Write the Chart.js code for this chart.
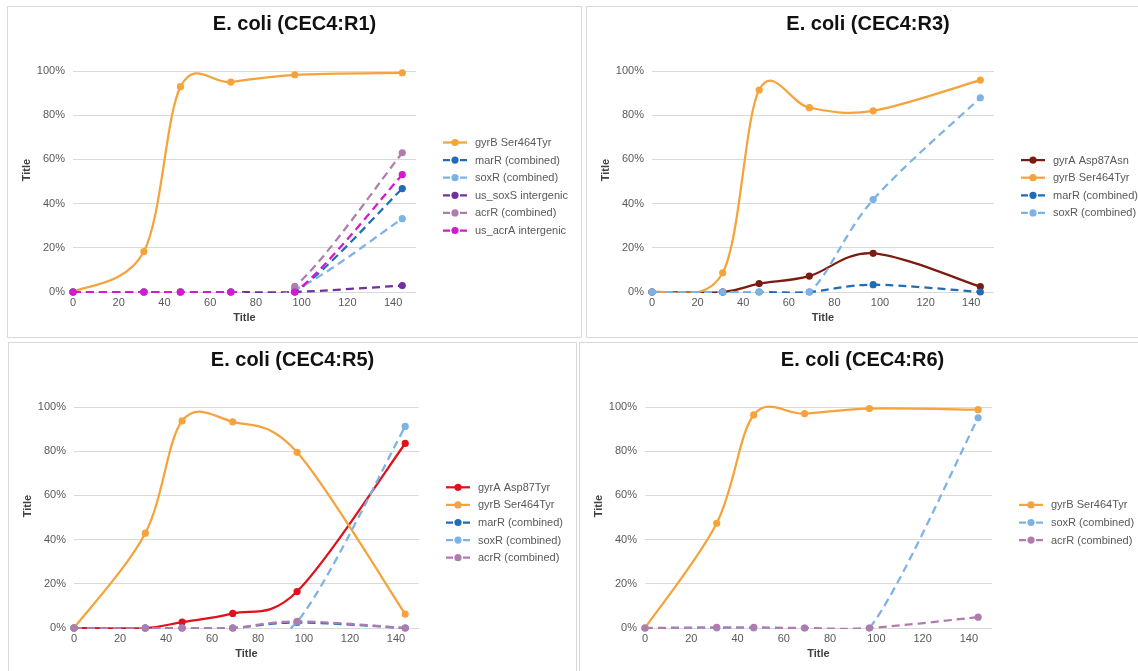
<!DOCTYPE html>
<html><head><meta charset="utf-8">
<script src="https://cdn.jsdelivr.net/npm/chart.js@4"></script>
<style>
html,body{margin:0;padding:0;background:#fff;width:1138px;height:671px;overflow:hidden;}
.panel{position:absolute;border:1px solid #D9D9D9;box-sizing:border-box;background:#fff;overflow:hidden;}
canvas{display:block;}
</style></head><body>
<div class="panel" style="left:7px;top:6px;width:575px;height:332px"><canvas id="c1"></canvas></div>
<div class="panel" style="left:586px;top:6px;width:564px;height:332px"><canvas id="c2"></canvas></div>
<div class="panel" style="left:8px;top:342px;width:569px;height:332px"><canvas id="c3"></canvas></div>
<div class="panel" style="left:579px;top:342px;width:567px;height:332px"><canvas id="c4"></canvas></div>
<script>
// ---- data ----
const timeHours = [0, 31, 47, 69, 97, 144];
const xTickValues = [0, 20, 40, 60, 80, 100, 120, 140];
const yTickValues = [0, 0.2, 0.4, 0.6, 0.8, 1.0];
const axisTitleX = 'Title';
const axisTitleY = 'Title';

const r1Title = 'E. coli (CEC4:R1)';
const r1Names = ['gyrB Ser464Tyr', 'marR (combined)', 'soxR (combined)', 'us_soxS intergenic', 'acrR (combined)', 'us_acrA intergenic'];
const r1_gyrB = [0, 0.183, 0.929, 0.950, 0.983, 0.992];
const r1_marR = [0, 0, 0, 0, 0, 0.468];
const r1_soxR = [0, 0, 0, 0, 0.01, 0.332];
const r1_soxS = [0, 0, 0, 0, 0, 0.029];
const r1_acrR = [0, 0, 0, 0, 0.026, 0.630];
const r1_acrA = [0, 0, 0, 0, 0, 0.531];

const r3Title = 'E. coli (CEC4:R3)';
const r3Names = ['gyrA Asp87Asn', 'gyrB Ser464Tyr', 'marR (combined)', 'soxR (combined)'];
const r3_gyrA = [0, 0, 0.038, 0.072, 0.175, 0.024];
const r3_gyrB = [0, 0.087, 0.914, 0.834, 0.820, 0.959];
const r3_marR = [0, 0, 0, 0, 0.033, 0];
const r3_soxR = [0, 0, 0, 0, 0.418, 0.879];

const r5Title = 'E. coli (CEC4:R5)';
const r5Names = ['gyrA Asp87Tyr', 'gyrB Ser464Tyr', 'marR (combined)', 'soxR (combined)', 'acrR (combined)'];
const r5_gyrA = [0, 0, 0.027, 0.066, 0.165, 0.835];
const r5_gyrB = [0, 0.429, 0.937, 0.933, 0.795, 0.063];
const r5_marR = [0, 0, 0, 0, 0.025, 0];
const r5_soxR = [0, 0, 0, 0, 0.028, 0.912];
const r5_acrR = [0, 0, 0, 0, 0.030, 0];

const r6Title = 'E. coli (CEC4:R6)';
const r6Names = ['gyrB Ser464Tyr', 'soxR (combined)', 'acrR (combined)'];
const r6_gyrB = [0, 0.474, 0.964, 0.970, 0.993, 0.988];
const r6_soxR = [0, 0, 0, 0, 0, 0.951];
const r6_acrR = [0, 0.003, 0.003, 0, 0, 0.049];

// ---- styles ----
const seriesStyle = {
  'gyrB Ser464Tyr': {color: '#F5A33A', dash: false},
  'marR (combined)': {color: '#1F6CB8', dash: true},
  'soxR (combined)': {color: '#7DB2E6', dash: true},
  'us_soxS intergenic': {color: '#7030A0', dash: true},
  'acrR (combined)': {color: '#B07CB0', dash: true},
  'us_acrA intergenic': {color: '#D817D0', dash: true},
  'gyrA Asp87Asn': {color: '#7B1C10', dash: false},
  'gyrA Asp87Tyr': {color: '#E0111B', dash: false}
};
const FONT = '"Liberation Sans", Arial, Helvetica, sans-serif';
Chart.defaults.font.family = FONT;

const panels = [
  {id: 'c1', w: 573, h: 330, plotW: 343, title: r1Title, names: r1Names, values: [r1_gyrB, r1_marR, r1_soxR, r1_soxS, r1_acrR, r1_acrA]},
  {id: 'c2', w: 562, h: 330, plotW: 342, title: r3Title, names: r3Names, values: [r3_gyrA, r3_gyrB, r3_marR, r3_soxR]},
  {id: 'c3', w: 567, h: 330, plotW: 345, title: r5Title, names: r5Names, values: [r5_gyrA, r5_gyrB, r5_marR, r5_soxR, r5_acrR]},
  {id: 'c4', w: 565, h: 330, plotW: 347, title: r6Title, names: r6Names, values: [r6_gyrB, r6_soxR, r6_acrR]}
];

// Uniform Catmull-Rom smoothing (spreadsheet-style smoothed line)
const smoothPlugin = {
  id: 'smooth',
  beforeDatasetDraw(chart, args) {
    const meta = args.meta;
    const ds = chart.data.datasets[args.index];
    if (!ds.showLine || !meta.dataset) return;
    const line = meta.dataset;
    line.updateControlPoints(chart.chartArea, meta.indexAxis);
    const pts = meta.data;
    const n = pts.length;
    for (let i = 0; i < n; i++) {
      const prev = pts[Math.max(i - 1, 0)];
      const next = pts[Math.min(i + 1, n - 1)];
      const cur = pts[i];
      const dx = (next.x - prev.x) / 6;
      const dy = (next.y - prev.y) / 6;
      cur.cp1x = cur.x - dx; cur.cp1y = cur.y - dy;
      cur.cp2x = cur.x + dx; cur.cp2y = cur.y + dy;
    }
  }
};

const decoPlugin = {
  id: 'deco',
  afterDraw(chart, args, opts) {
    const ctx = chart.ctx, a = chart.chartArea;
    ctx.save();
    ctx.fillStyle = '#111';
    ctx.font = 'bold 20px ' + FONT;
    ctx.textAlign = 'center';
    ctx.textBaseline = 'middle';
    ctx.fillText(opts.title, chart.width / 2, 17);
    ctx.fillStyle = '#404040';
    ctx.font = 'bold 11px ' + FONT;
    ctx.fillText(opts.xTitle, (a.left + a.right) / 2, 311);
    ctx.save();
    ctx.translate(19, 163);
    ctx.rotate(-Math.PI / 2);
    ctx.fillText(opts.yTitle, 0, 0);
    ctx.restore();
    const items = opts.items;
    const gap = 17.6;
    const y0 = 179.5 - (items.length - 1) * gap / 2;
    const lx = a.right + 27;
    ctx.font = '11px ' + FONT;
    ctx.textAlign = 'left';
    items.forEach((it, i) => {
      const y = y0 + i * gap;
      ctx.strokeStyle = it.color;
      ctx.fillStyle = it.color;
      ctx.lineWidth = 2.25;
      ctx.beginPath();
      if (it.dash) {
        ctx.moveTo(lx, y); ctx.lineTo(lx + 7, y);
        ctx.moveTo(lx + 17, y); ctx.lineTo(lx + 24, y);
      } else {
        ctx.moveTo(lx, y); ctx.lineTo(lx + 24, y);
      }
      ctx.stroke();
      ctx.beginPath();
      ctx.arc(lx + 12, y, 3.6, 0, Math.PI * 2);
      ctx.fill();
      ctx.fillStyle = '#595959';
      ctx.fillText(it.name, lx + 32, y + 0.5);
    });
    ctx.restore();
  }
};

function makeChart(p) {
  const cv = document.getElementById(p.id);
  cv.width = p.w; cv.height = p.h;
  cv.style.width = p.w + 'px'; cv.style.height = p.h + 'px';
  const datasets = [];
  const items = [];
  p.names.forEach((name, i) => {
    const st = seriesStyle[name];
    const vals = p.values[i];
    const pts = timeHours.map((x, k) => ({x: x, y: vals[k]}));
    items.push({name: name, color: st.color, dash: st.dash});
    datasets.push({
      label: name, data: pts, borderColor: st.color, backgroundColor: st.color,
      borderWidth: 2.25, borderDash: st.dash ? [8, 5] : [], tension: 0.4,
      pointRadius: 0, pointHoverRadius: 0, showLine: true, fill: false,
      clip: {left: false, right: false, top: false, bottom: 1}, order: -(2 * i)
    });
    datasets.push({
      label: name + ' markers', data: pts, showLine: false, borderWidth: 0,
      pointRadius: 3.6, pointHoverRadius: 3.6, pointBorderWidth: 0,
      pointBackgroundColor: st.color, borderColor: st.color, backgroundColor: st.color,
      clip: false, order: -(2 * i + 1)
    });
  });
  new Chart(cv, {
    type: 'line',
    data: {datasets: datasets},
    plugins: [smoothPlugin, decoPlugin],
    options: {
      responsive: false, animation: false,
      elements: {line: {capBezierPoints: false}},
      layout: {padding: {left: 0, top: 64, right: p.w - 65 - p.plotW, bottom: p.h - 285 - 20}},
      plugins: {
        legend: {display: false}, title: {display: false}, tooltip: {enabled: false},
        deco: {title: p.title, xTitle: axisTitleX, yTitle: axisTitleY, items: items}
      },
      scales: {
        x: {
          type: 'linear', min: 0, max: 150,
          afterBuildTicks: s => { s.ticks = xTickValues.map(v => ({value: v})); },
          afterFit: s => { s.height = 20; },
          grid: {display: false, drawTicks: false},
          border: {display: false},
          ticks: {padding: 4, maxRotation: 0, autoSkip: false, color: '#595959', font: {size: 11, family: FONT}}
        },
        y: {
          type: 'linear', min: 0, max: 1,
          afterBuildTicks: s => { s.ticks = yTickValues.map(v => ({value: v})); },
          afterFit: s => { s.width = 65; },
          grid: {color: '#D9D9D9', lineWidth: 1, drawTicks: false},
          border: {display: false},
          ticks: {padding: 8, color: '#595959', font: {size: 11, family: FONT},
                  callback: v => Math.round(v * 100) + '%'}
        }
      }
    }
  });
}
panels.forEach(makeChart);
</script>
</body></html>
